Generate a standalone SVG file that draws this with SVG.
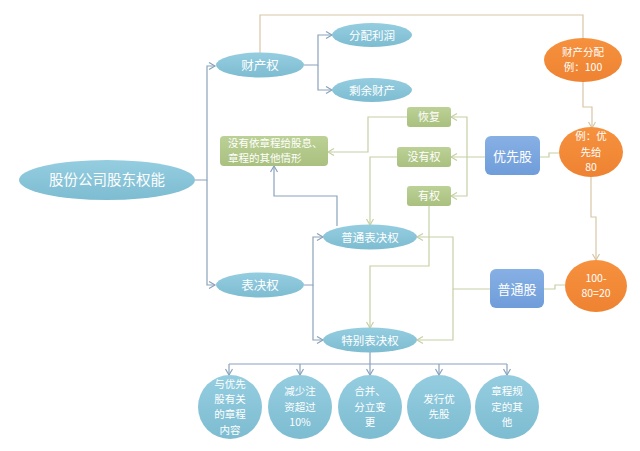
<svg xmlns="http://www.w3.org/2000/svg" width="640" height="451" viewBox="0 0 640 451">
<defs>
<linearGradient id="gb" x1="0" y1="0" x2="0" y2="1"><stop offset="0" stop-color="#95cde0"/><stop offset="1" stop-color="#7dbcd1"/></linearGradient>
<linearGradient id="gg" x1="0" y1="0" x2="0" y2="1"><stop offset="0" stop-color="#bcd196"/><stop offset="1" stop-color="#a9c07f"/></linearGradient>
<linearGradient id="go" x1="0" y1="0" x2="0" y2="1"><stop offset="0" stop-color="#f6913e"/><stop offset="1" stop-color="#ee8332"/></linearGradient>
<linearGradient id="gr" x1="0" y1="0" x2="0" y2="1"><stop offset="0" stop-color="#87b0e4"/><stop offset="1" stop-color="#6f9dda"/></linearGradient>
<marker id="ab" markerUnits="userSpaceOnUse" markerWidth="10" markerHeight="10" refX="7" refY="4" orient="auto"><path d="M1,0.5 L7,4 L1,7.5" fill="none" stroke="#8aa2bb" stroke-width="1.2"/></marker>
<marker id="ag" markerUnits="userSpaceOnUse" markerWidth="10" markerHeight="10" refX="7" refY="4" orient="auto"><path d="M1,0.5 L7,4 L1,7.5" fill="none" stroke="#c6d0a4" stroke-width="1.2"/></marker>
<marker id="at" markerUnits="userSpaceOnUse" markerWidth="10" markerHeight="10" refX="7" refY="4" orient="auto"><path d="M1,0.5 L7,4 L1,7.5" fill="none" stroke="#d8c6a6" stroke-width="1.2"/></marker>
</defs>
<style>
text{font-family:"Noto Sans CJK SC","Noto Sans",sans-serif;fill:#ffffff;text-anchor:middle}
.eb{fill:url(#gb)}
.rg{fill:url(#gg)}
.eo{fill:url(#go)}
.rb{fill:url(#gr)}
.cb{fill:none;stroke:#8aa2bb;stroke-width:1.2}
.cg{fill:none;stroke:#c6d0a4;stroke-width:1.2}
.ct{fill:none;stroke:#d8c6a6;stroke-width:1.2}
.ci{font-size:10.5px}
.or{font-size:10.5px}
</style>
<g id="connectors">
<path class="cb" d="M195,180 H207 V66 H215" marker-end="url(#ab)"/>
<path class="cb" d="M207,180 V285 H215" marker-end="url(#ab)"/>
<path class="cb" d="M304,65 H318 V35 H332" marker-end="url(#ab)"/>
<path class="cb" d="M318,65 V90 H332" marker-end="url(#ab)"/>
<path class="cb" d="M304,285 H313 V237 H323" marker-end="url(#ab)"/>
<path class="cb" d="M313,285 V340 H323" marker-end="url(#ab)"/>
<path class="cb" d="M337,226 V196 H274 V166" marker-end="url(#ab)"/>
<path class="cb" d="M370,352 V375" marker-end="url(#ab)"/>
<path class="cb" d="M229,364 H507"/>
<path class="cb" d="M229,364 V375" marker-end="url(#ab)"/>
<path class="cb" d="M300,364 V375" marker-end="url(#ab)"/>
<path class="cb" d="M439,364 V375" marker-end="url(#ab)"/>
<path class="cb" d="M507,364 V375" marker-end="url(#ab)"/>
<path class="cg" d="M485,157 H451" marker-end="url(#ag)"/>
<path class="cg" d="M467,157 V117 H451" marker-end="url(#ag)"/>
<path class="cg" d="M467,157 V196 H451" marker-end="url(#ag)"/>
<path class="cg" d="M407,117 H368 V152 H328" marker-end="url(#ag)"/>
<path class="cg" d="M397,157 H370 V225" marker-end="url(#ag)"/>
<path class="cg" d="M429,206 V266 H370 V328" marker-end="url(#ag)"/>
<path class="cg" d="M490,289 H453 V237 H417" marker-end="url(#ag)"/>
<path class="cg" d="M453,289 V340 H417" marker-end="url(#ag)"/>
<path class="ct" d="M260,53 V15 H583 V38"/>
<path class="ct" d="M583,82 V107 H592 V128" marker-end="url(#at)"/>
<path class="ct" d="M591,177 V217 H596 V260" marker-end="url(#at)"/>
<path class="cg" d="M540,157 H549 V153 H559"/>
<path class="cg" d="M544,289 H555 V285 H565"/>
</g>
<g id="root"><ellipse class="eb" cx="107" cy="180" rx="88" ry="20"/><text x="107" y="185" font-size="14.5">股份公司股东权能</text></g>
<g id="caichanquan"><ellipse class="eb" cx="260" cy="65" rx="44" ry="12.5"/><text x="260" y="70" font-size="12.5">财产权</text></g>
<g id="biaojuequan"><ellipse class="eb" cx="260" cy="285" rx="44" ry="12.5"/><text x="260" y="290" font-size="12.5">表决权</text></g>
<g id="fenpeilirun"><ellipse class="eb" cx="372" cy="35" rx="40" ry="12"/><text x="372" y="39.5" font-size="11.5">分配利润</text></g>
<g id="shengyucaichan"><ellipse class="eb" cx="372" cy="90" rx="40" ry="12"/><text x="372" y="94.5" font-size="11.5">剩余财产</text></g>
<g id="putong"><ellipse class="eb" cx="370" cy="237" rx="47" ry="12.5"/><text x="370" y="241.5" font-size="11.5">普通表决权</text></g>
<g id="tebie"><ellipse class="eb" cx="370" cy="340" rx="47" ry="12.5"/><text x="370" y="344.5" font-size="11.5">特别表决权</text></g>
<g id="meiyouyi"><rect class="rg" x="220" y="136" width="108" height="30" rx="4"/><text font-size="10.5" style="text-anchor:start"><tspan x="228" y="147">没有依章程给股息、</tspan><tspan x="228" y="162.4">章程的其他情形</tspan></text></g>
<g id="huifu"><rect class="rg" x="407" y="107" width="44" height="20" rx="3"/><text x="429" y="121" font-size="11">恢复</text></g>
<g id="meiyouquan"><rect class="rg" x="397" y="147" width="54" height="20" rx="3"/><text x="424" y="161" font-size="11">没有权</text></g>
<g id="youquan"><rect class="rg" x="407" y="186" width="44" height="20" rx="3"/><text x="429" y="200" font-size="11">有权</text></g>
<g id="youxiangu"><rect class="rb" x="485" y="136" width="55" height="39" rx="6"/><text x="512.5" y="160.5" font-size="13">优先股</text></g>
<g id="putonggu"><rect class="rb" x="490" y="269" width="54" height="39" rx="6"/><text x="517" y="293.5" font-size="13">普通股</text></g>
<g id="o1"><ellipse class="eo" cx="583" cy="60" rx="39" ry="22"/><text class="or"><tspan x="583" y="56">财产分配</tspan><tspan x="583" y="71.4">例：100</tspan></text></g>
<g id="o2"><ellipse class="eo" cx="591" cy="152" rx="32" ry="25"/><text class="or"><tspan x="591" y="140.4">例：优</tspan><tspan x="591" y="155.7">先给</tspan><tspan x="591" y="171">80</tspan></text></g>
<g id="o3"><ellipse class="eo" cx="596" cy="286" rx="31" ry="26"/><text class="or"><tspan x="596" y="282">100-</tspan><tspan x="596" y="297.4">80=20</tspan></text></g>
<g id="c1"><circle class="eb" cx="230" cy="407" r="32"/><text class="ci"><tspan x="230" y="387.6">与优先</tspan><tspan x="230" y="403">股有关</tspan><tspan x="230" y="418.4">的章程</tspan><tspan x="230" y="433.8">内容</tspan></text></g>
<g id="c2"><circle class="eb" cx="300" cy="407" r="32"/><text class="ci"><tspan x="300" y="395.4">减少注</tspan><tspan x="300" y="410.7">资超过</tspan><tspan x="300" y="426">10%</tspan></text></g>
<g id="c3"><circle class="eb" cx="370" cy="407" r="32"/><text class="ci"><tspan x="370" y="395.4">合并、</tspan><tspan x="370" y="410.7">分立变</tspan><tspan x="370" y="426">更</tspan></text></g>
<g id="c4"><circle class="eb" cx="439" cy="407" r="32"/><text class="ci"><tspan x="439" y="403">发行优</tspan><tspan x="439" y="418.4">先股</tspan></text></g>
<g id="c5"><circle class="eb" cx="507" cy="407" r="32"/><text class="ci"><tspan x="507" y="395.4">章程规</tspan><tspan x="507" y="410.7">定的其</tspan><tspan x="507" y="426">他</tspan></text></g>
</svg>
